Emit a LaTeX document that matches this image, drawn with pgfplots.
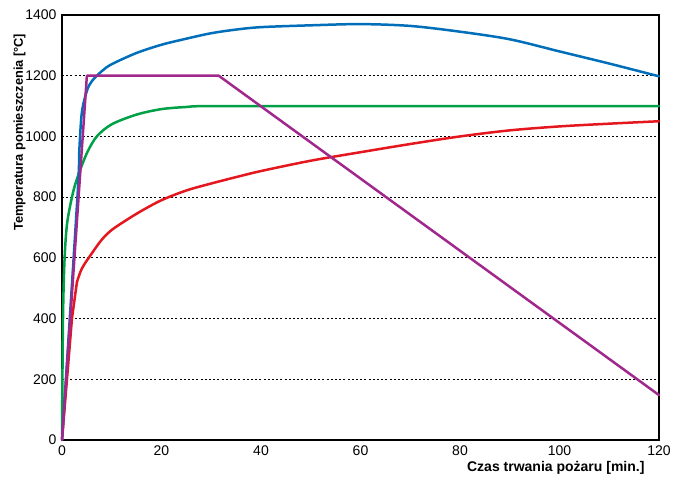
\documentclass[border=0pt]{standalone}
\usepackage{fontspec}
\setmainfont{Liberation Sans}
\usepackage{pgfplots}
\pgfplotsset{compat=1.18}
\definecolor{cblue}{RGB}{0,110,185}
\definecolor{cgreen}{RGB}{0,160,70}
\definecolor{cred}{RGB}{228,22,30}
\definecolor{cpurple}{RGB}{160,40,140}
\begin{document}
\begin{tikzpicture}
\useasboundingbox (-62pt,-44pt) rectangle (622pt,440pt);
\begin{axis}[
  scale only axis, width=597pt, height=425pt,
  xmin=0, xmax=120, ymin=0, ymax=1400,
  xtick={0,20,...,120}, ytick={0,200,...,1400},
  major tick length=0pt,
  axis line style={line width=1.4pt},
  ymajorgrids, grid style={black, line width=0.8pt, dash pattern=on 2pt off 2.2pt},
  /pgf/number format/assume math mode=true,
  /pgf/number format/1000 sep={},
  tick label style={font=\fontsize{14}{16}\selectfont},
  yticklabel style={xshift=-2pt},
  xticklabel style={yshift=-2pt},
  xlabel={Czas trwania pożaru [min.]},
  ylabel={Temperatura pomieszczenia [°C]},
  xlabel style={font=\fontsize{14}{16}\selectfont\bfseries, at={(axis description cs:0.9816,-0.066)}, anchor=east},
  ylabel style={font=\fontsize{12.8}{15}\selectfont\bfseries, at={(axis description cs:-0.071,0.724)}, anchor=center, rotate=0},
  clip=false,
  every axis plot/.append style={line width=2.5pt, line join=round, line cap=round},
]
\addplot[cgreen, smooth] coordinates {(0,20) (0.2,400) (0.5,590) (1,710) (2,800) (3,860) (5,945) (7,1000) (10,1040) (15,1072) (20,1090) (25,1097) (30,1100) (60,1100) (90,1100) (120,1100)};
\addplot[cred, sharp plot] coordinates {(0,0) (2,400) (3,520)};
\addplot[cred, smooth, tension=0.5] coordinates {(3,520) (4,565) (6,615) (8,660) (10,692) (13,725) (16,755) (20,790) (25,822) (30,845) (35,866) (40,886) (50,920) (60,948) (70,975) (80,1000) (90,1020) (100,1033) (110,1042) (120,1050)};
\addplot[cblue, smooth] coordinates {(0,0) (3.1,800) (3.5,960) (4,1080) (5,1150) (6,1182) (8,1215) (10,1238) (15,1275) (20,1302) (25,1322) (30,1340) (35,1352) (40,1360) (50,1366) (60,1370) (70,1364) (80,1345) (90,1320) (100,1280) (110,1240) (120,1198)};
\addplot[cpurple, sharp plot] coordinates {(0,0) (5,1200) (31.5,1200) (120,148)};
\end{axis}
\end{tikzpicture}
\end{document}
